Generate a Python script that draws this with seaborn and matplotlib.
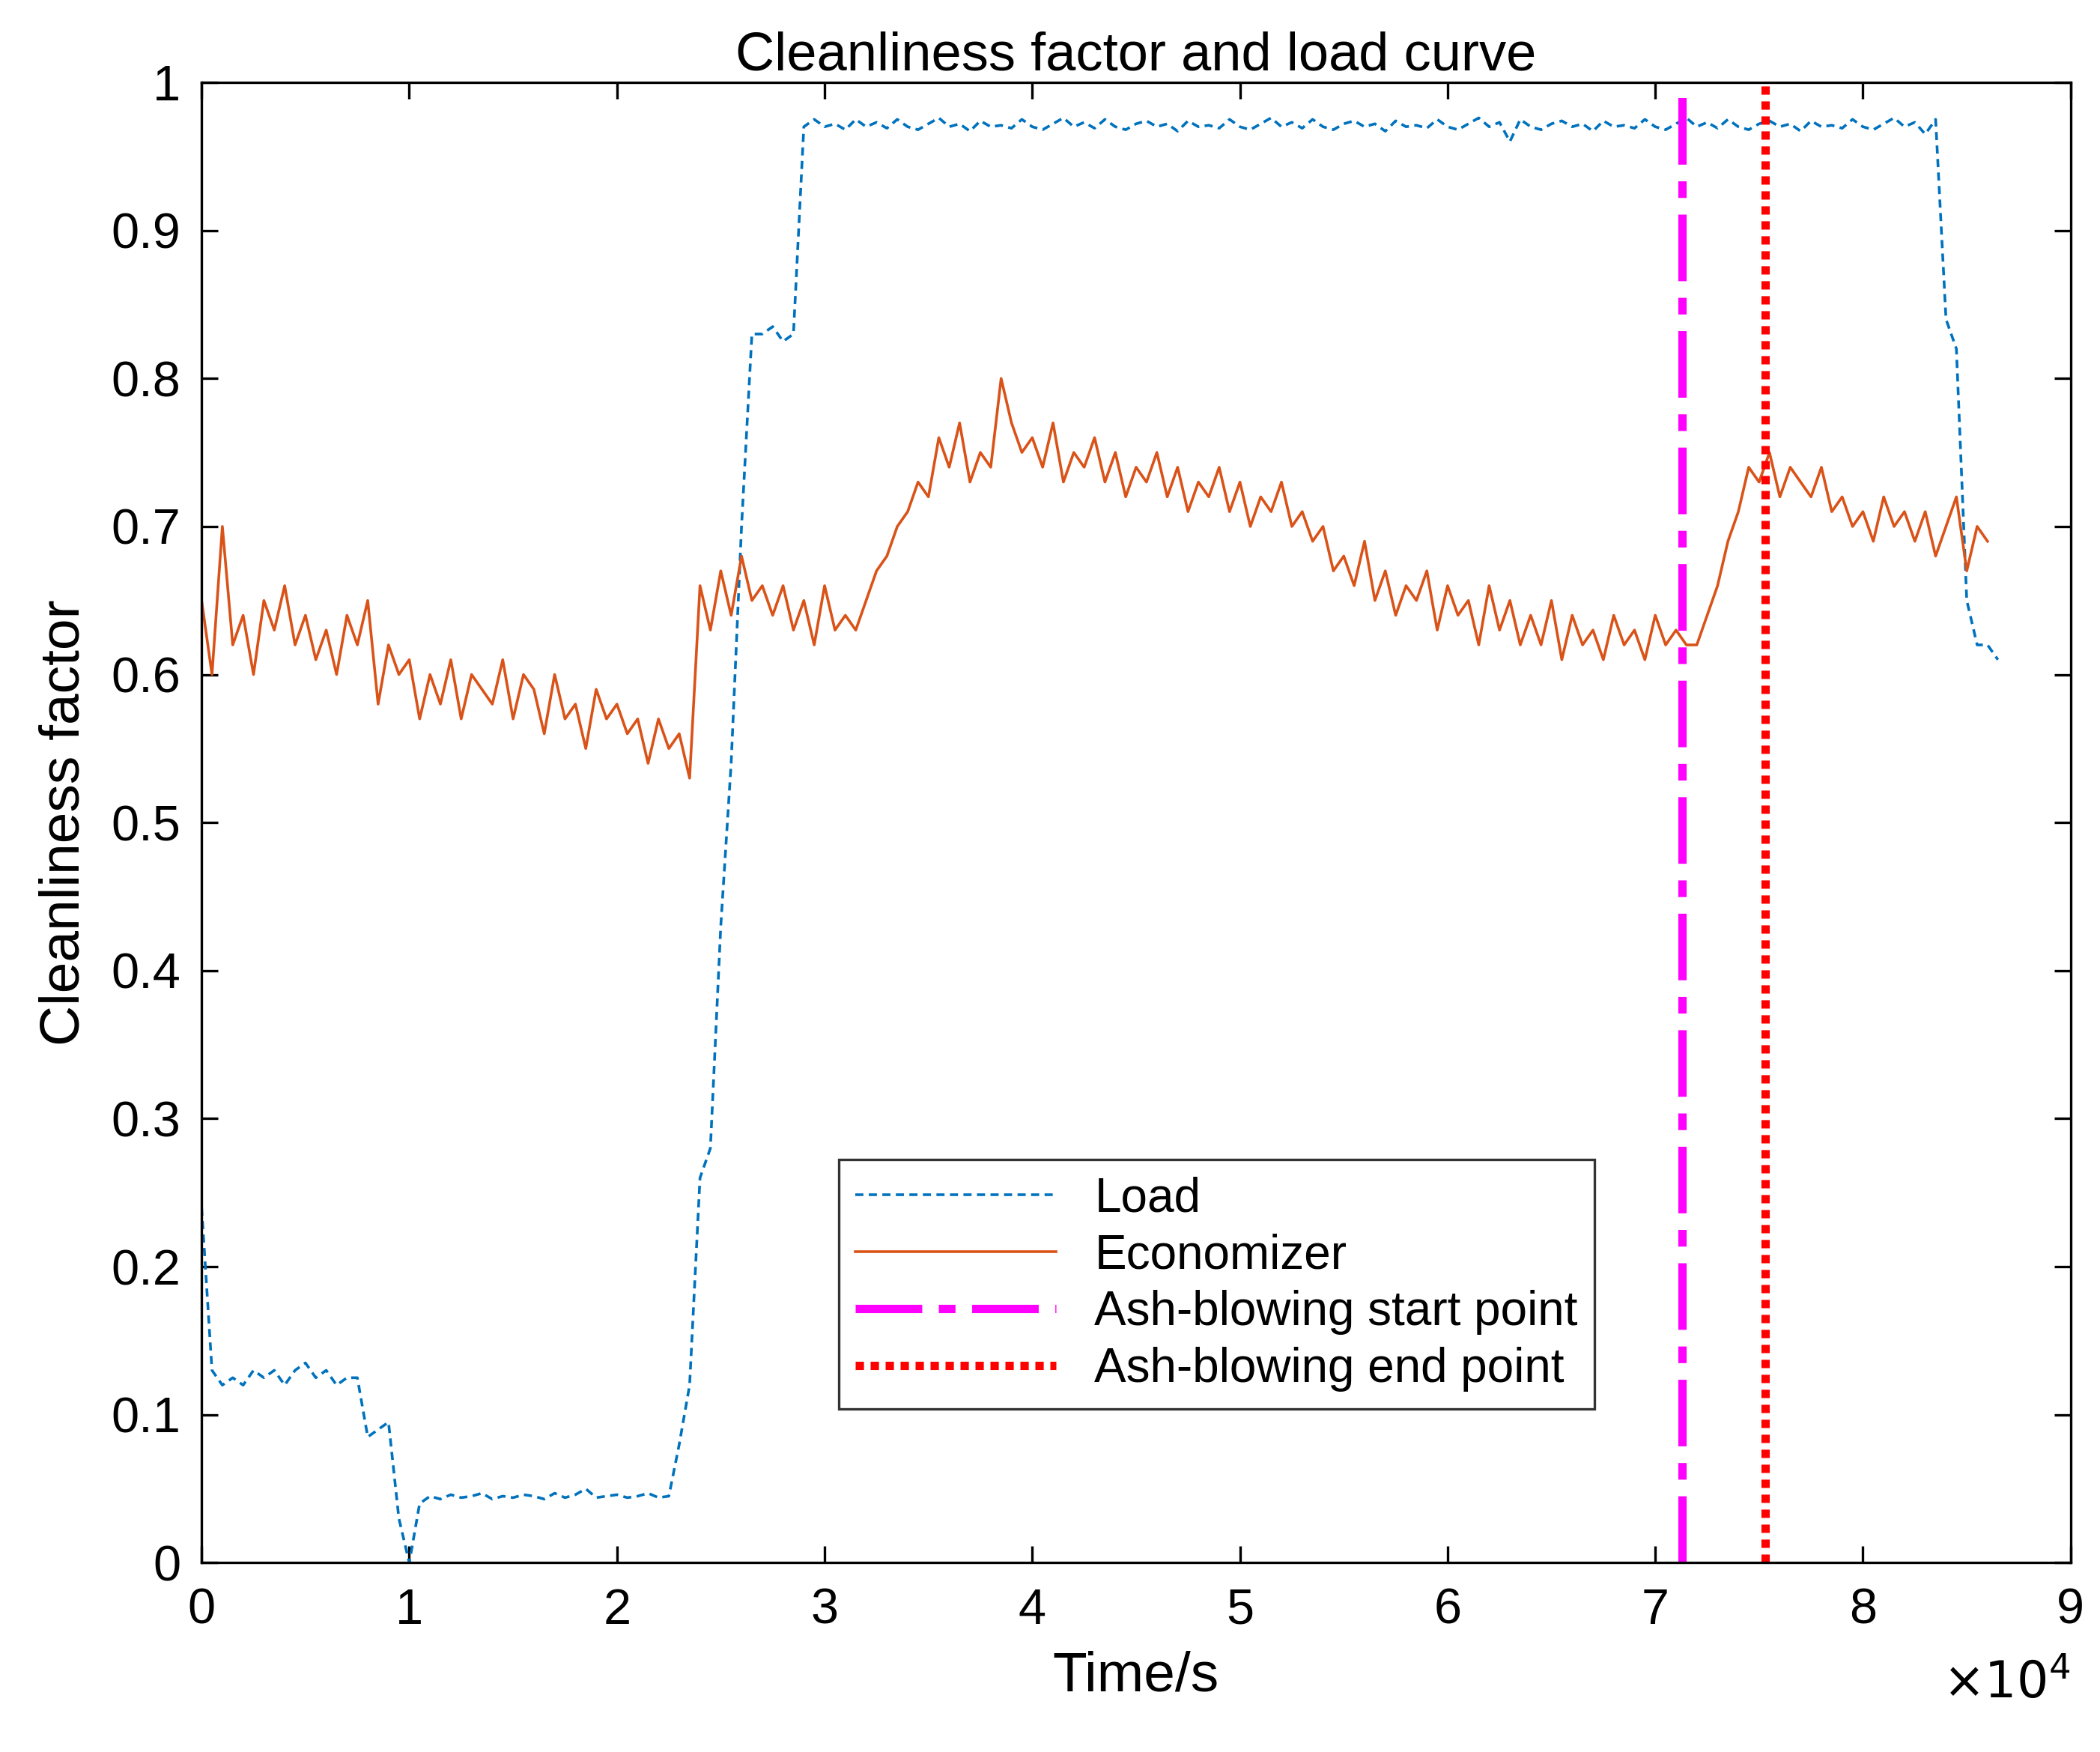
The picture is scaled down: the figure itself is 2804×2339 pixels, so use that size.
import numpy as np
import matplotlib
matplotlib.use("Agg")
import matplotlib.pyplot as plt
import seaborn as sns
import pandas as pd

# Load: 500 s sampling, starting at 0 s
load_head = [0.24, 0.13, 0.12, 0.125, 0.12, 0.13, 0.125, 0.13, 0.12, 0.13, 0.135, 0.125, 0.13, 0.12, 0.125, 0.125,
             0.085, 0.09, 0.095, 0.03, 0.0, 0.04, 0.045, 0.043, 0.046, 0.044, 0.045, 0.047, 0.043, 0.045,
             0.044, 0.046, 0.045, 0.043, 0.047, 0.044, 0.046, 0.05, 0.044, 0.045, 0.046, 0.044, 0.045,
             0.047, 0.044, 0.045, 0.08, 0.12, 0.26, 0.28, 0.43, 0.54, 0.70, 0.83, 0.83, 0.835, 0.825, 0.83]
load_plateau = [0.97, 0.975, 0.97, 0.972, 0.968, 0.975, 0.97, 0.973, 0.969, 0.975,
                0.97, 0.968, 0.972, 0.976, 0.97, 0.972, 0.967, 0.974, 0.97, 0.971,
                0.969, 0.975, 0.97, 0.968, 0.972, 0.976, 0.97, 0.973, 0.969, 0.975,
                0.97, 0.968, 0.972, 0.974, 0.97, 0.972, 0.967, 0.974, 0.97, 0.971,
                0.969, 0.975, 0.97, 0.968, 0.972, 0.976, 0.97, 0.973, 0.969, 0.975,
                0.97, 0.968, 0.972, 0.974, 0.97, 0.972, 0.967, 0.974, 0.97, 0.971,
                0.969, 0.975, 0.97, 0.968, 0.972, 0.976, 0.97, 0.973, 0.96, 0.975,
                0.97, 0.968, 0.972, 0.974, 0.97, 0.972, 0.967, 0.974, 0.97, 0.971,
                0.969, 0.975, 0.97, 0.968, 0.972, 0.976, 0.97, 0.973, 0.969, 0.975,
                0.97, 0.968, 0.972, 0.974, 0.97, 0.972, 0.967, 0.974, 0.97, 0.971,
                0.969, 0.975, 0.97, 0.968, 0.972, 0.976, 0.97, 0.973, 0.965, 0.975]
load_tail = [0.84, 0.82, 0.65, 0.62, 0.62, 0.61]
load = load_head + load_plateau + load_tail
load_time = [i * 500 for i in range(len(load))]

econ = [0.65, 0.60, 0.70, 0.62, 0.64, 0.60, 0.65, 0.63, 0.66, 0.62, 0.64, 0.61, 0.63, 0.60, 0.64, 0.62,
        0.65, 0.58, 0.62, 0.60, 0.61, 0.57, 0.60, 0.58, 0.61, 0.57, 0.60, 0.59, 0.58, 0.61, 0.57, 0.60,
        0.59, 0.56, 0.60, 0.57, 0.58, 0.55, 0.59, 0.57, 0.58, 0.56, 0.57, 0.54, 0.57, 0.55, 0.56, 0.53,
        0.66, 0.63, 0.67, 0.64, 0.68, 0.65, 0.66, 0.64, 0.66, 0.63, 0.65, 0.62, 0.66, 0.63, 0.64, 0.63,
        0.65, 0.67, 0.68, 0.70, 0.71, 0.73, 0.72, 0.76, 0.74, 0.77, 0.73, 0.75, 0.74, 0.80, 0.77, 0.75,
        0.76, 0.74, 0.77, 0.73, 0.75, 0.74, 0.76, 0.73, 0.75, 0.72, 0.74, 0.73, 0.75, 0.72, 0.74, 0.71,
        0.73, 0.72, 0.74, 0.71, 0.73, 0.70, 0.72, 0.71, 0.73, 0.70, 0.71, 0.69, 0.70, 0.67, 0.68, 0.66,
        0.69, 0.65, 0.67, 0.64, 0.66, 0.65, 0.67, 0.63, 0.66, 0.64, 0.65, 0.62, 0.66, 0.63, 0.65, 0.62,
        0.64, 0.62, 0.65, 0.61, 0.64, 0.62, 0.63, 0.61, 0.64, 0.62, 0.63, 0.61, 0.64, 0.62, 0.63, 0.62,
        0.62, 0.64, 0.66, 0.69, 0.71, 0.74, 0.73, 0.75, 0.72, 0.74, 0.73, 0.72, 0.74, 0.71, 0.72, 0.70,
        0.71, 0.69, 0.72, 0.70, 0.71, 0.69, 0.71, 0.68, 0.70, 0.72, 0.67, 0.70, 0.69]
econ_time = [i * 500 for i in range(len(econ))]
ash_start = 71300
ash_end = 75300

df_load = pd.DataFrame({"t": load_time, "v": load})
df_econ = pd.DataFrame({"t": econ_time, "v": econ})

plt.rcParams["font.family"] = "Liberation Sans"
fig = plt.figure(figsize=(14.02, 11.695), dpi=200)
ax = fig.add_axes([0.096, 0.108, 0.89, 0.845])
sns.lineplot(data=df_load, x="t", y="v", ax=ax, color="#0072BD", lw=1.3, linestyle=(0, (3, 2)), label="Load")
sns.lineplot(data=df_econ, x="t", y="v", ax=ax, color="#D95319", lw=1.3, label="Economizer")
ax.axvline(ash_start, color="#FF00FF", lw=4, linestyle=(0, (8, 2, 2, 2)), label="Ash-blowing start point")
ax.axvline(ash_end, color="#FF0000", lw=4, linestyle=(0, (1, 0.8)), label="Ash-blowing end point")
ax.set_xlim(0, 90000)
ax.set_ylim(0, 1)
ax.set_xticks(np.arange(0, 90001, 10000))
ax.set_xticklabels([str(i) for i in range(10)])
ax.set_yticks(np.arange(0, 1.01, 0.1))
ax.set_yticklabels(["0"] + [f"{v:.1f}" for v in np.arange(0.1, 0.95, 0.1)] + ["1"])
ax.tick_params(labelsize=24, direction="in", length=8, top=True, right=True, width=1.2)
ax.tick_params(axis="x", pad=12)
ax.tick_params(axis="y", pad=10)
for s in ax.spines.values():
    s.set_linewidth(1.2)
ax.set_xlabel("Time/s", fontsize=27, labelpad=8)
ax.set_ylabel("Cleanliness factor", fontsize=27, labelpad=10)
ax.set_title("Cleanliness factor and load curve", fontsize=26, pad=6)
ax.text(1.0, -0.065, r"$\times10^4$", transform=ax.transAxes, ha="right", va="top", fontsize=24)
leg = ax.legend(loc="lower left", bbox_to_anchor=(0.328, 0.088), fontsize=23, frameon=True,
                fancybox=False, edgecolor="black", handlelength=4.2, borderpad=0.35, labelspacing=0.25)
leg.get_frame().set_linewidth(1.2)
fig.savefig("out.png", dpi=200)
